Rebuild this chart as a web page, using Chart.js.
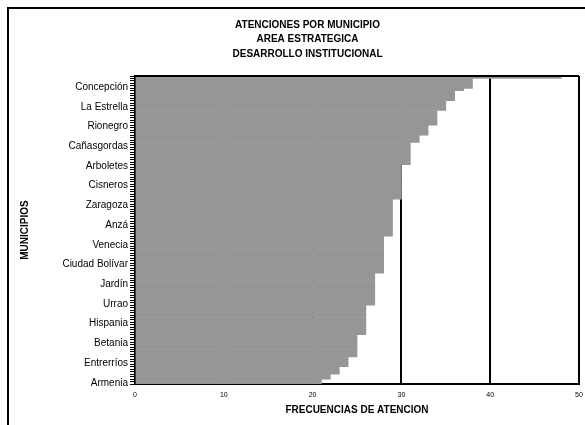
<!DOCTYPE html>
<html>
<head>
<meta charset="utf-8">
<script src="https://cdn.jsdelivr.net/npm/chart.js@4"></script>
<style>
  html, body { margin: 0; padding: 0; background: #fff; overflow: hidden; width: 585px; height: 425px; }
  #frame { position: absolute; left: 7px; top: 7px; border: 2px solid #000; width: 600px; height: 420px; }
  canvas { display: block; }
</style>
</head>
<body>
<div id="frame"><canvas id="chart" width="600" height="420"></canvas></div>
<script>
const titleLines = ["ATENCIONES POR MUNICIPIO", "AREA ESTRATEGICA", "DESARROLLO INSTITUCIONAL"];
const xTitle = "FRECUENCIAS DE ATENCION";
const yTitle = "MUNICIPIOS";
const xTicks = [0, 10, 20, 30, 40, 50];

// municipalities, top bar first; only every 8th name is readable in the picture
const municipios = [
  "", "", "", "", "Concepción", "", "", "",
  "", "", "", "", "La Estrella", "", "", "",
  "", "", "", "", "Rionegro", "", "", "",
  "", "", "", "", "Cañasgordas", "", "", "",
  "", "", "", "", "Arboletes", "", "", "",
  "", "", "", "", "Cisneros", "", "", "",
  "", "", "", "", "Zaragoza", "", "", "",
  "", "", "", "", "Anzá", "", "", "",
  "", "", "", "", "Venecia", "", "", "",
  "", "", "", "", "Ciudad Bolívar", "", "", "",
  "", "", "", "", "Jardín", "", "", "",
  "", "", "", "", "Urrao", "", "", "",
  "", "", "", "", "Hispania", "", "", "",
  "", "", "", "", "Betania", "", "", "",
  "", "", "", "", "Entrerríos", "", "", "",
  "", "", "", "", "Armenia"
];

const frecuencias = [
  48, 38, 38, 38, 38, 37, 36, 36,
  36, 36, 35, 35, 35, 35, 34, 34,
  34, 34, 34, 34, 33, 33, 33, 33,
  32, 32, 32, 31, 31, 31, 31, 31,
  31, 31, 31, 31, 30, 30, 30, 30,
  30, 30, 30, 30, 30, 30, 30, 30,
  30, 30, 29, 29, 29, 29, 29, 29,
  29, 29, 29, 29, 29, 29, 29, 29,
  29, 28, 28, 28, 28, 28, 28, 28,
  28, 28, 28, 28, 28, 28, 28, 28,
  27, 27, 27, 27, 27, 27, 27, 27,
  27, 27, 27, 27, 27, 26, 26, 26,
  26, 26, 26, 26, 26, 26, 26, 26,
  26, 25, 25, 25, 25, 25, 25, 25,
  25, 25, 24, 24, 24, 24, 23, 23,
  23, 22, 22, 21, 21
];

const FONT = 'Arial, "Liberation Sans", sans-serif';

// top edge of the plot box and the three title lines
const frameAndTitle = {
  id: "frameAndTitle",
  afterDatasetsDraw(chart) {
    const { ctx, chartArea: a } = chart;
    ctx.save();
    ctx.strokeStyle = "#000";
    ctx.lineWidth = 2;
    ctx.beginPath();
    ctx.moveTo(a.left, a.top);
    ctx.lineTo(a.right, a.top);
    ctx.stroke();
    ctx.restore();
  },
  afterDraw(chart) {
    const ctx = chart.ctx;
    ctx.save();
    ctx.fillStyle = "#000";
    ctx.font = "bold 10px " + FONT;
    ctx.textAlign = "center";
    ctx.textBaseline = "middle";
    titleLines.forEach((t, i) => ctx.fillText(t, 298.5, 16 + i * 14.5));
    ctx.restore();
  }
};

new Chart(document.getElementById("chart").getContext("2d"), {
  type: "bar",
  data: {
    labels: municipios,
    datasets: [
      {
        data: frecuencias,
        backgroundColor: "#969696",
        borderWidth: 0,
        barPercentage: 1,
        categoryPercentage: 1,
      },
    ],
  },
  options: {
    indexAxis: "y",
    responsive: false,
    animation: false,
    layout: { padding: { top: 67, right: 30, left: 0, bottom: 0 } },
    plugins: {
      legend: { display: false },
      tooltip: { enabled: false },
    },
    scales: {
      x: {
        min: 0,
        max: 50,
        afterFit: (s) => { s.height = 45; },
        afterBuildTicks: (s) => { s.ticks = xTicks.map((v) => ({ value: v })); },
        border: { color: "#000", width: 2 },
        grid: { color: "#000", lineWidth: 2, drawTicks: false },
        ticks: { color: "#000", font: { family: FONT, size: 7 }, padding: 7 },
        title: {
          display: true,
          text: xTitle,
          color: "#000",
          font: { family: FONT, size: 10, weight: "bold" },
          padding: { top: 0, bottom: 13 },
        },
      },
      y: {
        afterFit: (s) => { s.width = 126; },
        border: { color: "#000", width: 2 },
        grid: { drawOnChartArea: false, color: "#000", lineWidth: 1, tickLength: 5 },
        ticks: {
          autoSkip: false,
          color: "#000",
          font: { family: FONT, size: 10 },
          padding: 2,
          callback: (v, i) => municipios[i],
        },
        title: {
          display: true,
          text: yTitle,
          color: "#000",
          font: { family: FONT, size: 10, weight: "bold" },
          padding: { top: 10, bottom: 0 },
        },
      },
    },
  },
  plugins: [frameAndTitle],
});
</script>
</body>
</html>
